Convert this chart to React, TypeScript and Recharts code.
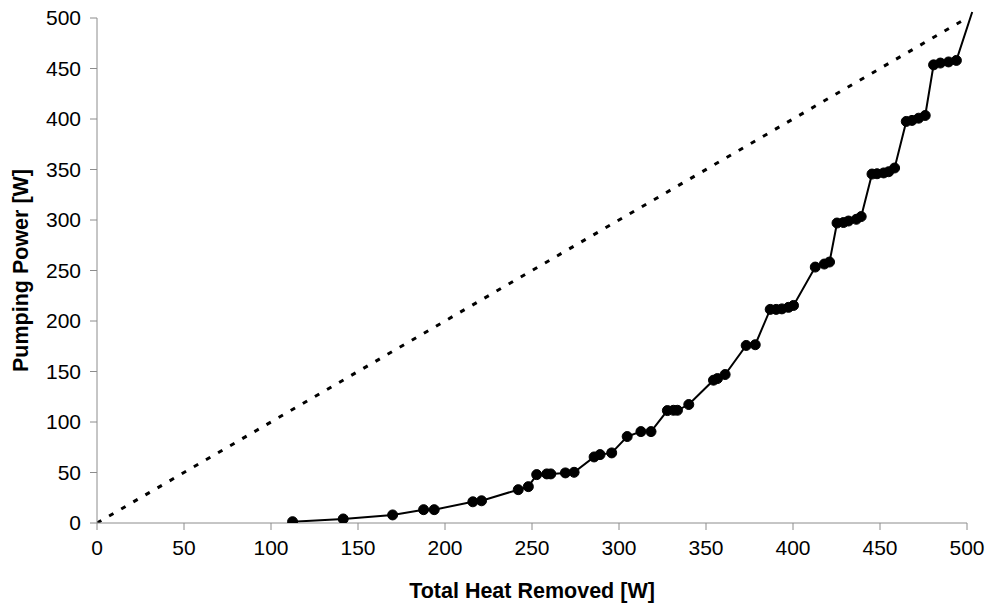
import React from 'react';
import { ComposedChart, Line, XAxis, YAxis } from 'recharts';

const heatRemoved = [
  112.4, 141.5, 169.9, 187.7, 193.8, 216, 221, 242.1, 247.9, 252.7, 258.5, 260.8, 269.2, 274.2,
  285.7, 289.1, 295.8, 304.7, 312.6, 318.4, 327.8, 331.3, 333.6, 340.1, 354.3, 356.6, 361,
  373.1, 378.3, 386.9, 390.3, 393.6, 397.4, 400.3, 412.8, 418, 421, 425.3, 429, 431.9, 436.4,
  439.2, 445.4, 448.3, 452.1, 455, 458.4, 465.1, 468.4, 472.2, 476, 480.8, 484.7, 489.4, 493.9,
  503,
];
const pumpingPower = [
  1.3, 4, 8, 13.2, 13.2, 21, 22, 33, 36, 47.9, 48.6, 48.6, 49.6, 50.2,
  65.4, 67.7, 69.4, 85.6, 90.5, 90.5, 111.3, 111.6, 111.6, 117.3, 141.4, 143, 147,
  175.8, 176.5, 211.5, 211.5, 212, 213.5, 215.4, 253.4, 256.4, 258.4, 297, 297.5, 299, 300.7,
  303.4, 345.5, 345.8, 346.6, 347.8, 351.5, 397.6, 398.6, 400.8, 403.5, 453.6, 455.4, 456.5, 458,
  506,
];
const parityX = [0, 500];
const parityY = [0, 500];
const ticks = [0, 50, 100, 150, 200, 250, 300, 350, 400, 450, 500];

const measured = heatRemoved.map((x, i) => ({ x, y: pumpingPower[i] }));
const parity = parityX.map((x, i) => ({ x, y: parityY[i] }));
const lastIdx = measured.length - 1;

const renderDot = (props: any) => {
  const { cx, cy, index } = props;
  if (index === lastIdx) return <g key={`d-${index}`} />;
  return <circle key={`d-${index}`} cx={cx} cy={cy} r={5} fill="#000" stroke="#000" strokeWidth={1} />;
};

const font = 'Liberation Sans, Arial, sans-serif';
const tickStyle = { fill: '#000', fontSize: 21, fontFamily: font };
const axisColor = '#8c8c8c';

export default function App() {
  return (
    <div style={{ position: 'absolute', left: 0, top: 0, width: 987, height: 607, background: '#fff' }}>
      <style>{`.no-clip, .no-clip *, .no-clip g, .no-clip path { clip-path: none !important; }`}</style>
      <ComposedChart
        width={987}
        height={607}
        margin={{ top: 18, right: 20, bottom: 0, left: 0 }}
      >
        <XAxis
          type="number"
          dataKey="x"
          domain={[0, 500]}
          ticks={ticks}
          allowDataOverflow
          height={84}
          tickSize={7}
          tickMargin={10}
          stroke={axisColor}
          tick={tickStyle}
          label={{
            value: 'Total Heat Removed [W]',
            position: 'insideBottom',
            offset: 9,
            style: { fill: '#000', fontSize: 21.5, fontWeight: 'bold', fontFamily: font },
          }}
        />
        <YAxis
          type="number"
          dataKey="y"
          domain={[0, 500]}
          ticks={ticks}
          allowDataOverflow
          width={97}
          tickSize={7}
          tickMargin={9}
          stroke={axisColor}
          tick={tickStyle}
          label={{
            value: 'Pumping Power [W]',
            angle: -90,
            position: 'insideLeft',
            offset: 20,
            style: { textAnchor: 'middle', fill: '#000', fontSize: 21.5, fontWeight: 'bold', fontFamily: font },
          }}
        />
        <Line
          data={parity}
          dataKey="y"
          type="linear"
          stroke="#000"
          strokeWidth={3}
          strokeDasharray="5 9"
          dot={false}
          activeDot={false}
          isAnimationActive={false}
        />
        <Line
          data={measured}
          dataKey="y"
          type="linear"
          className="no-clip"
          stroke="#000"
          strokeWidth={2}
          dot={renderDot}
          activeDot={false}
          isAnimationActive={false}
        />
      </ComposedChart>
    </div>
  );
}
